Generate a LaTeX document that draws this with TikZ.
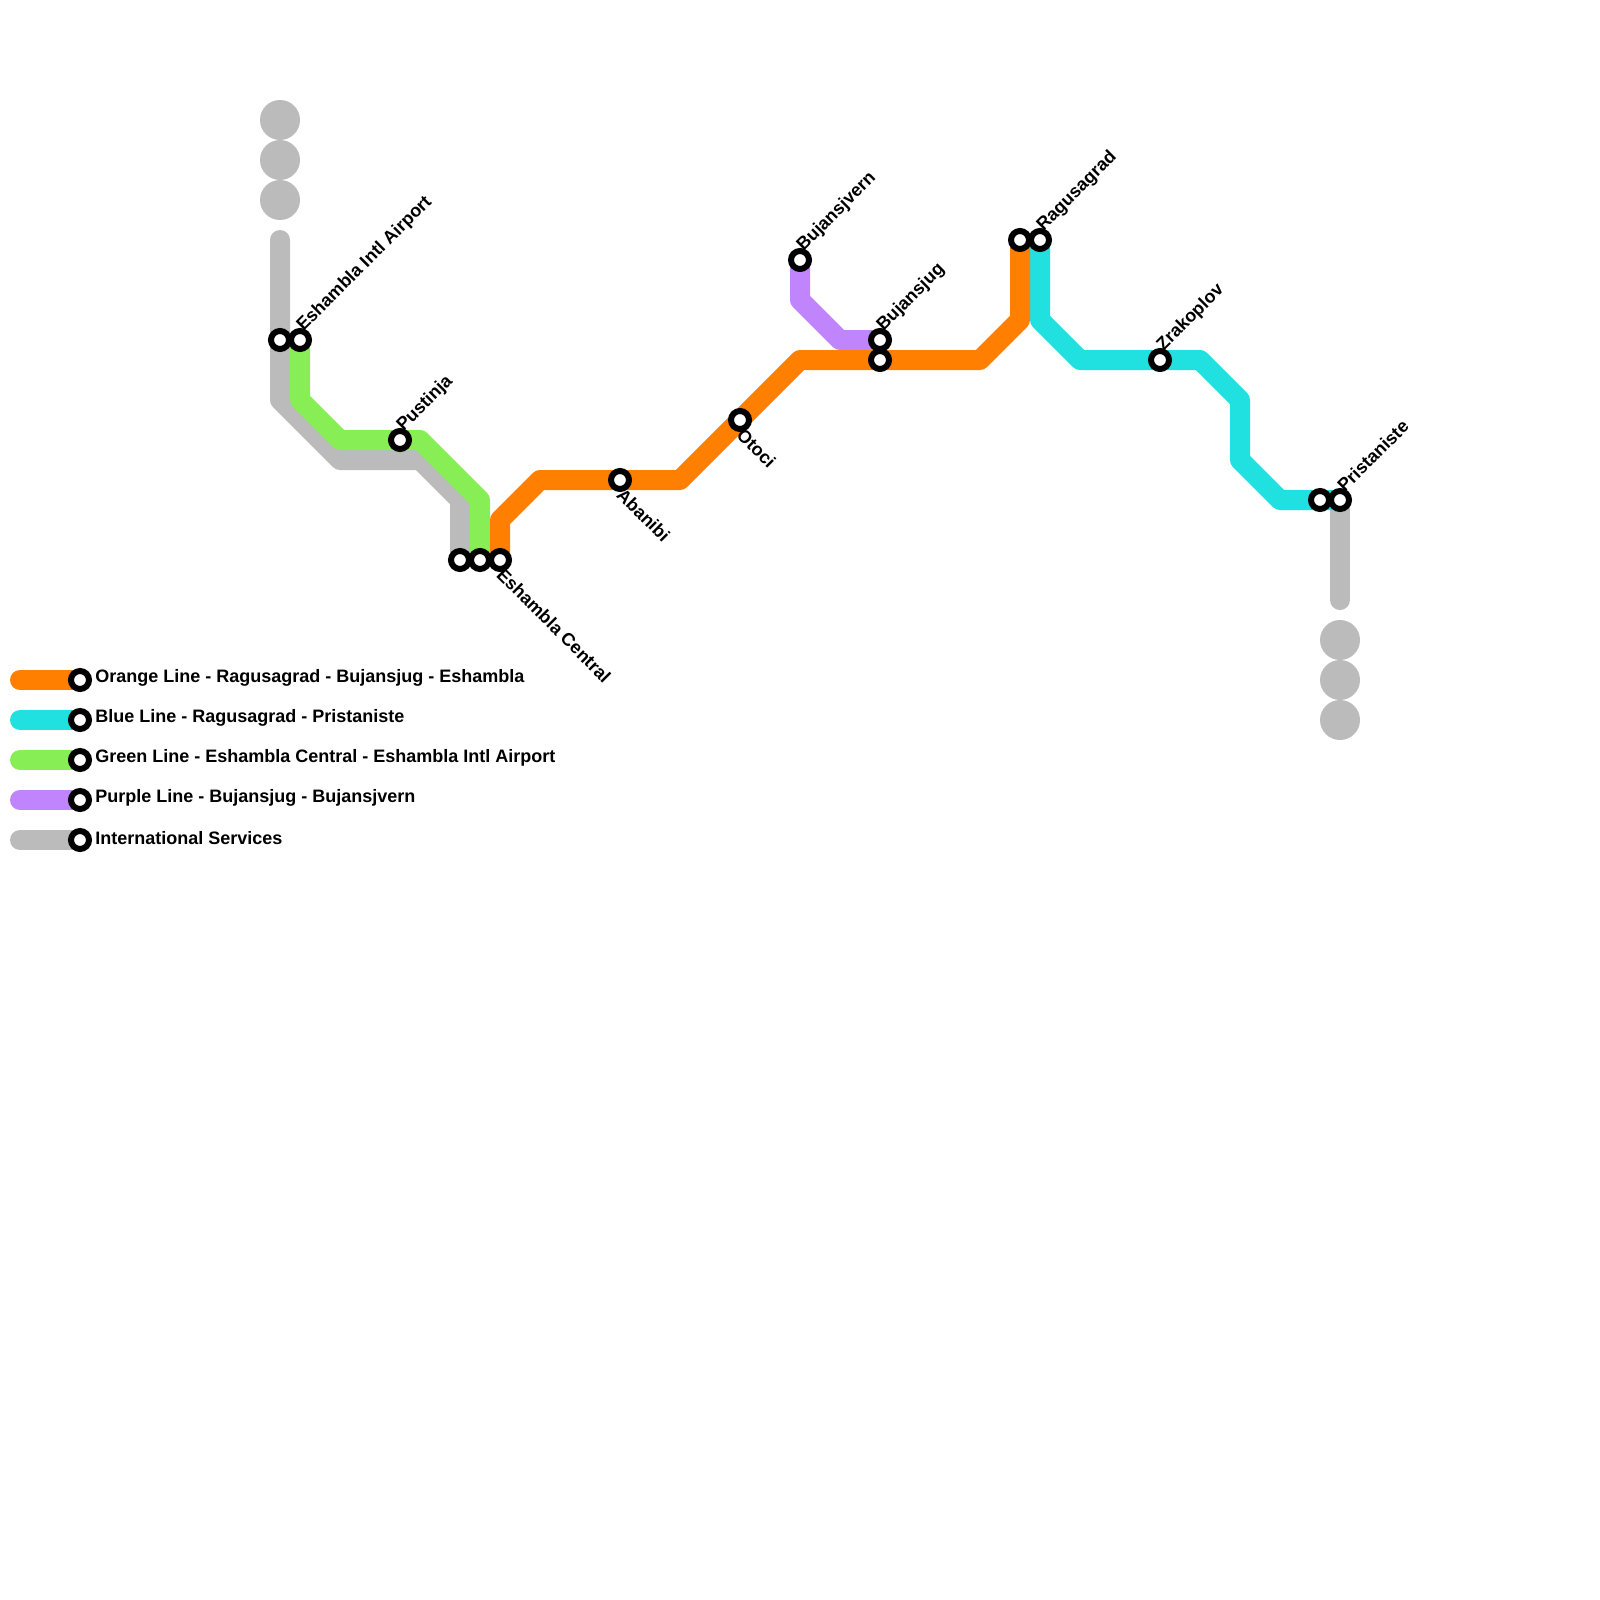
\documentclass[tikz,border=0pt]{standalone}
\usepackage{fontspec}
\setmainfont{Liberation Sans}
\usetikzlibrary{backgrounds}
\definecolor{orangeline}{HTML}{FF8000}
\definecolor{blueline}{HTML}{20E0E0}
\definecolor{greenline}{HTML}{88EE55}
\definecolor{purpleline}{HTML}{C084FC}
\definecolor{greyline}{HTML}{BBBBBB}
\tikzset{
    every node/.style={font=\bfseries\fontsize{9}{11}\selectfont},
    line/.style={line width=10pt, line cap=round, line join=round},
    station/.style={circle, draw=black, fill=white, line width=3pt, minimum size=9pt, inner sep=0pt, outer sep=0pt},
    blob/.style={circle, fill=greyline, minimum size=20pt, inner sep=0pt, outer sep=0pt},
    nameup/.style={rotate=45, anchor=west, inner sep=0pt, xshift=4pt, yshift=4pt},
    namedown/.style={rotate=-45, anchor=west, inner sep=0pt, xshift=4pt, yshift=-4pt},
    keytext/.style={anchor=west, inner sep=0pt},
}
\begin{document}
\begin{tikzpicture}[x=0.5pt,y=-0.5pt]
\useasboundingbox (0,0) rectangle (1600,1600);
% stations
\node[station] (airportgrey) at (280,340) {};
\node[station] (airport) at (300,340) {};
\node[station] (pustinja) at (400,440) {};
\node[station] (centralgrey) at (460,560) {};
\node[station] (centralgreen) at (480,560) {};
\node[station] (central) at (500,560) {};
\node[station] (abanibi) at (620,480) {};
\node[station] (otoci) at (740,420) {};
\node[station] (sjvern) at (800,260) {};
\node[station] (sjug) at (880,340) {};
\node[station] (sjugorange) at (880,360) {};
\node[station] (ragusaorange) at (1020,240) {};
\node[station] (ragusa) at (1040,240) {};
\node[station] (zrakoplov) at (1160,360) {};
\node[station] (pristblue) at (1320,500) {};
\node[station] (prist) at (1340,500) {};
% station names
\node[nameup] (airportname) at (airport) {Eshambla Intl Airport};
\node[nameup] (pustinjaname) at (pustinja) {Pustinja};
\node[namedown] (centralname) at (central) {Eshambla Central};
\node[namedown] (abanibiname) at (abanibi) {Abanibi};
\node[namedown] (otociname) at (otoci) {Otoci};
\node[nameup] (sjvernname) at (sjvern) {Bujansjvern};
\node[nameup] (sjugname) at (sjug) {Bujansjug};
\node[nameup] (ragusaname) at (ragusa) {Ragusagrad};
\node[nameup] (zrakoplovname) at (zrakoplov) {Zrakoplov};
\node[nameup] (pristname) at (prist) {Pristaniste};
% grey blobs
\foreach \y in {120,160,200}{
  \node[blob] (blobl\y) at (280,\y) {};
}
\foreach \y in {640,680,720}{
  \node[blob] (blobr\y) at (1340,\y) {};
}
% free ends and bends
\coordinate (greytop) at (280,240);
\coordinate (g1) at (280,400);
\coordinate (g2) at (340,460);
\coordinate (g3) at (420,460);
\coordinate (g4) at (460,500);
\coordinate (greyend) at (1340,600);
\coordinate (n1) at (300,400);
\coordinate (n2) at (340,440);
\coordinate (n3) at (420,440);
\coordinate (n4) at (480,500);
\coordinate (o1) at (500,520);
\coordinate (o2) at (540,480);
\coordinate (o3) at (680,480);
\coordinate (o4) at (800,360);
\coordinate (o5) at (980,360);
\coordinate (o6) at (1020,320);
\coordinate (b1) at (1040,320);
\coordinate (b2) at (1080,360);
\coordinate (b3) at (1200,360);
\coordinate (b4) at (1240,400);
\coordinate (b5) at (1240,460);
\coordinate (b6) at (1280,500);
\coordinate (p1) at (800,300);
\coordinate (p2) at (840,340);
% legend
\foreach \key/\col/\y/\txt in {
  orange/orangeline/680/Orange Line - Ragusagrad - Bujansjug - Eshambla,
  blue/blueline/720/Blue Line - Ragusagrad - Pristaniste,
  green/greenline/760/Green Line - Eshambla Central - Eshambla Intl Airport,
  purple/purpleline/800/Purple Line - Bujansjug - Bujansjvern,
  grey/greyline/840/International Services}{
  \coordinate (\key start) at (20,\y);
  \node[station] (\key stop) at (80,\y) {};
  \node[keytext] (\key text) at (95,\y-2) {\txt};
  \begin{scope}[on background layer]
    \draw[line,\col] (\key start) -- (\key stop.center);
  \end{scope}
}
% lines
\begin{scope}[on background layer]
\draw[line,greyline] (greytop) -- (airportgrey.center) -- (g1) -- (g2) -- (g3) -- (g4) -- (centralgrey.center);
\draw[line,greyline] (prist.center) -- (greyend);
\draw[line,greenline] (airport.center) -- (n1) -- (n2) -- (pustinja.center) -- (n3) -- (n4) -- (centralgreen.center);
\draw[line,purpleline] (sjvern.center) -- (p1) -- (p2) -- (sjug.center);
\draw[line,blueline] (ragusa.center) -- (b1) -- (b2) -- (zrakoplov.center) -- (b3) -- (b4) -- (b5) -- (b6) -- (pristblue.center) -- (prist.center);
\draw[line,orangeline] (central.center) -- (o1) -- (o2) -- (abanibi.center) -- (o3) -- (otoci.center) -- (o4) -- (sjugorange.center) -- (o5) -- (o6) -- (ragusaorange.center);
\end{scope}
\end{tikzpicture}
\end{document}
